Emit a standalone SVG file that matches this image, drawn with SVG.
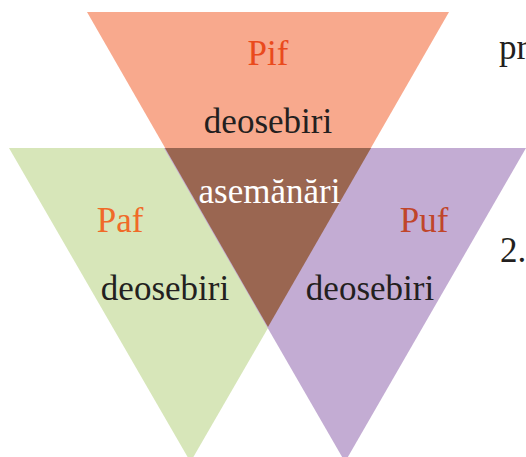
<svg xmlns="http://www.w3.org/2000/svg" width="526" height="457" viewBox="0 0 526 457" font-family="'Liberation Serif', 'Times New Roman', Times, serif">
<style>
text{font-family:"Liberation Serif","Times New Roman",Times,serif;font-size:35px;text-anchor:middle;fill:#231f20}
.w{fill:#ffffff}
.s{text-anchor:start}
</style>
<rect width="526" height="457" fill="#ffffff"/>
<g id="pif">
<polygon points="87,12 449,12 268,327" fill="#f8a98d"/>
<text x="268" y="65" style="fill:#ea4a1c">Pif</text>
<text x="268" y="133">deosebiri</text>
</g>
<g id="paf">
<polygon points="9,148 372,148 190.5,462" fill="#d7e6b9"/>
<text x="120" y="232" style="fill:#f06a28">Paf</text>
<text x="165" y="300">deosebiri</text>
</g>
<g id="puf">
<polygon points="164,148 526,148 345,462" fill="#c3acd3"/>
<text x="424" y="232" style="fill:#c0452a">Puf</text>
<text x="370" y="300">deosebiri</text>
</g>
<g id="asemanari">
<polygon points="165,148 371,148 268,327" fill="#9a6651"/>
<text class="w" x="269.5" y="203">asemănări</text>
</g>
<g id="connectors"/>
<text class="s" x="499" y="59">pr</text>
<text class="s" x="500" y="262">2.</text>
</svg>
